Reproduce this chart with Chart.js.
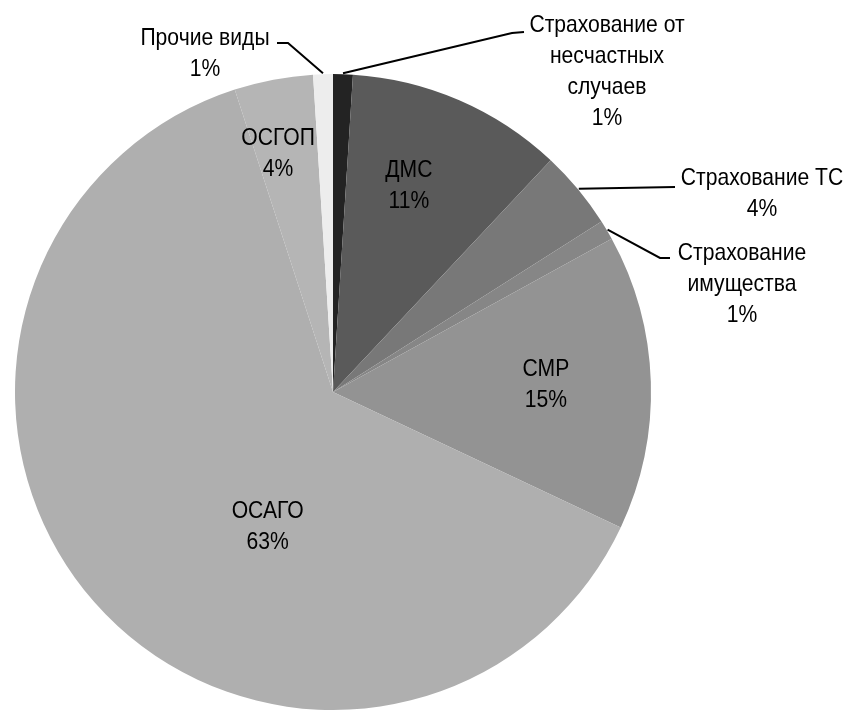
<!DOCTYPE html>
<html>
<head>
<meta charset="utf-8">
<script src="https://cdn.jsdelivr.net/npm/chart.js@4/dist/chart.umd.min.js"></script>
<style>
  html, body { margin: 0; padding: 0; background: #ffffff; }
  #wrap { width: 848px; height: 710px; position: relative; }
</style>
</head>
<body>
<div id="wrap"><canvas id="c" width="848" height="710"></canvas></div>
<script>
// ---- data ----
const categories = [
  ['Страхование от', 'несчастных', 'случаев'],
  ['ДМС'],
  ['Страхование ТС'],
  ['Страхование', 'имущества'],
  ['СМР'],
  ['ОСАГО'],
  ['ОСГОП'],
  ['Прочие виды']
];
const shares = [1, 11, 4, 1, 15, 63, 4, 1];   // percent of total
const sliceColors = ['#232323', '#5a5a5a', '#787878', '#868686', '#939393', '#afafaf', '#b5b5b5', '#ededed'];

// ---- label layout (style, not data) ----
const FONT = '24px "Liberation Sans", Arial, sans-serif';
const X_SCALE = 0.88;     // condensed look of the original type
const LINE_H = 31;
// inside labels: fraction along the slice's angle, fraction of radius
const insideLayout = {
  1: { f: 0.42, rf: 0.69 },
  4: { f: 0.50, rf: 0.67 },
  5: { f: 0.40, rf: 0.47 },
  6: { f: 0.35, rf: 0.77 }
};
// outside labels: text block centre x, first line y, leader path after the slice edge
const outsideLayout = {
  0: { tx: 607, ty: 25, pts: [[512, 33], [524, 32]] },
  2: { tx: 762, ty: 178, pts: [[675, 187]] },
  3: { tx: 742, ty: 253, pts: [[660, 258], [670, 258]] },
  7: { tx: 205, ty: 38, pts: [[288, 43], [277, 43]] }
};

function drawLine(ctx, t, x, y) {
  ctx.save();
  ctx.translate(x, y);
  ctx.scale(X_SCALE, 1);
  ctx.fillText(t, 0, 0);
  ctx.restore();
}

const labelPlugin = {
  id: 'sliceLabels',
  afterDatasetsDraw(chart) {
    const ctx = chart.ctx;
    const meta = chart.getDatasetMeta(0);
    const data = chart.data.datasets[0].data;
    ctx.save();
    ctx.font = FONT;
    ctx.fillStyle = '#000';
    ctx.textAlign = 'center';
    ctx.textBaseline = 'middle';
    meta.data.forEach((arc, i) => {
      const p = arc.getProps(['x', 'y', 'startAngle', 'endAngle', 'outerRadius'], true);
      const lines = categories[i].concat([data[i] + '%']);
      if (insideLayout[i]) {
        const L = insideLayout[i];
        const a = p.startAngle + L.f * (p.endAngle - p.startAngle);
        const cx = p.x + L.rf * p.outerRadius * Math.cos(a);
        const cy = p.y + L.rf * p.outerRadius * Math.sin(a);
        const y0 = cy - (lines.length - 1) * LINE_H / 2;
        lines.forEach((t, k) => drawLine(ctx, t, cx, y0 + k * LINE_H));
      } else if (outsideLayout[i]) {
        const L = outsideLayout[i];
        const a = (p.startAngle + p.endAngle) / 2;
        const sx = p.x + (p.outerRadius + 1) * Math.cos(a);
        const sy = p.y + (p.outerRadius + 1) * Math.sin(a);
        ctx.beginPath();
        ctx.strokeStyle = '#000';
        ctx.lineWidth = 2;
        ctx.moveTo(sx, sy);
        L.pts.forEach(q => ctx.lineTo(q[0], q[1]));
        ctx.stroke();
        lines.forEach((t, k) => drawLine(ctx, t, L.tx, L.ty + k * LINE_H));
      }
    });
    ctx.restore();
  }
};

new Chart(document.getElementById('c'), {
  type: 'pie',
  data: {
    labels: categories.map(c => c.join(' ')),
    datasets: [{
      data: shares,
      backgroundColor: sliceColors,
      borderWidth: 0
    }]
  },
  options: {
    responsive: false,
    animation: false,
    layout: { padding: { left: 15, right: 197, top: 74, bottom: 0 } },
    plugins: {
      legend: { display: false },
      tooltip: { enabled: false }
    }
  },
  plugins: [labelPlugin]
});
</script>
</body>
</html>
